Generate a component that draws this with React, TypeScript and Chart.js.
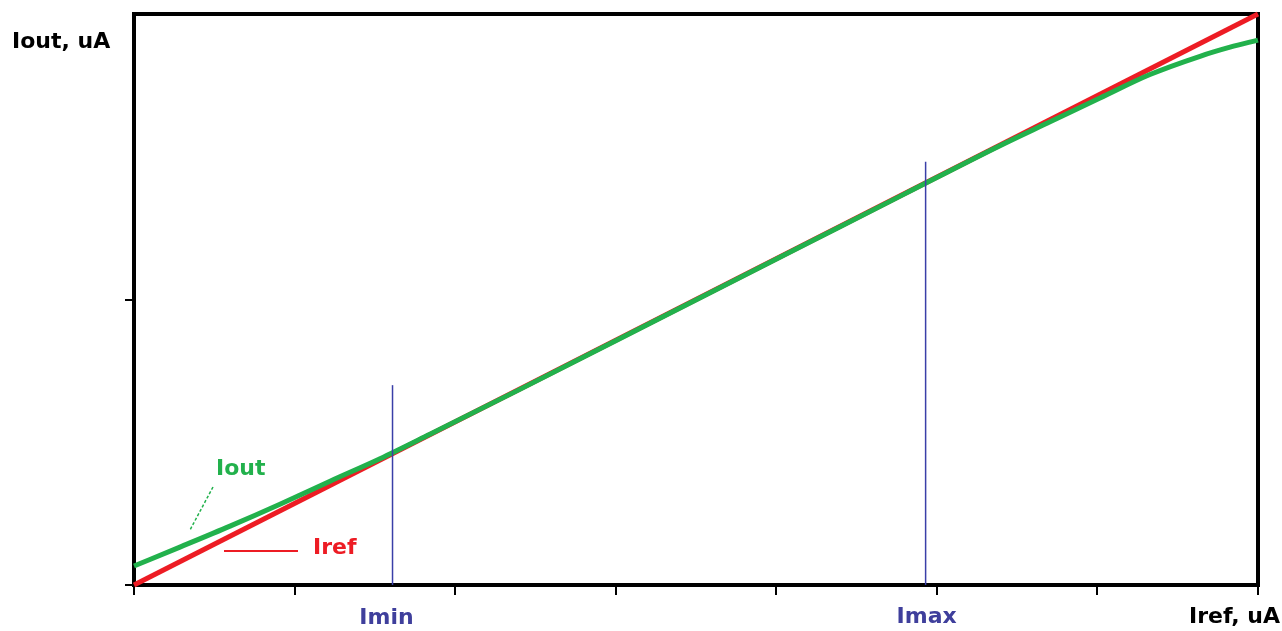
import React, { useEffect, useRef } from "react";
import { Chart, registerables } from "chart.js";

Chart.register(...registerables);

// Reference current (x axis, arbitrary uA units 0..70)
const refX = [0, 70];
const refY = [0, 70];

// Output current curve
const outX = [0, 2.86, 5.98, 9.09, 12.21, 15.32, 18.43, 24, 30, 36, 42, 48, 53.93, 57.05, 60.16, 63.27, 66.39, 68.26, 70];
const outY = [2.33, 4.65, 7.22, 9.91, 12.73, 15.48, 18.48, 23.95, 29.95, 35.95, 41.95, 47.95, 53.85, 56.78, 59.7, 62.58, 64.82, 65.93, 66.8];

// Imin / Imax markers
const iminX = 16.1;
const iminTop = 24.5;
const imaxX = 49.3;
const imaxTop = 51.9;

const xTicks = [0, 10, 20, 30, 40, 50, 60, 70];
const yTicks = [0, 35];

const yTitle = "Iout, uA";
const xTitle = "Iref, uA";
const iminLabel = "Imin";
const imaxLabel = "Imax";
const outLabel = "Iout";
const refLabel = "Iref";

const RED = "#ED1C24";
const GREEN = "#22B14C";
const BLUE = "#3A3FA8";
const FONT = "bold 22px 'DejaVu Sans', sans-serif";

const framePlugin = {
  id: "frame",
  beforeDatasetsDraw(chart: any) {
    const { ctx, chartArea } = chart;
    ctx.save();
    ctx.strokeStyle = "#000";
    ctx.lineWidth = 4;
    ctx.strokeRect(chartArea.left, chartArea.top, chartArea.right - chartArea.left, chartArea.bottom - chartArea.top);
    ctx.restore();
  },
  afterDraw(chart: any) {
    const { ctx, chartArea } = chart;
    const xs = chart.scales.x;
    ctx.save();
    ctx.font = FONT;
    ctx.textBaseline = "middle";
    // axis titles
    ctx.fillStyle = "#000";
    ctx.textAlign = "left";
    ctx.fillText(yTitle, 12, 42);
    ctx.textAlign = "right";
    ctx.fillText(xTitle, chartArea.right + 22, chartArea.bottom + 32);
    // Imin / Imax
    ctx.fillStyle = "#3F3F9C";
    ctx.textAlign = "center";
    ctx.fillText(iminLabel, xs.getPixelForValue(iminX) - 6, chartArea.bottom + 33);
    ctx.fillText(imaxLabel, xs.getPixelForValue(imaxX) + 1, chartArea.bottom + 32);
    // series labels
    ctx.textAlign = "left";
    ctx.fillStyle = GREEN;
    ctx.fillText(outLabel, chartArea.left + 82, chartArea.bottom - 116);
    ctx.fillStyle = RED;
    ctx.fillText(refLabel, chartArea.left + 179, chartArea.bottom - 37);
    // leader lines
    ctx.strokeStyle = GREEN;
    ctx.lineWidth = 1.5;
    ctx.setLineDash([3, 2]);
    ctx.beginPath();
    ctx.moveTo(chartArea.left + 79, chartArea.bottom - 98);
    ctx.lineTo(chartArea.left + 56, chartArea.bottom - 55);
    ctx.stroke();
    ctx.setLineDash([]);
    ctx.strokeStyle = RED;
    ctx.lineWidth = 2;
    ctx.beginPath();
    ctx.moveTo(chartArea.left + 90, chartArea.bottom - 34);
    ctx.lineTo(chartArea.left + 164, chartArea.bottom - 34);
    ctx.stroke();
    ctx.restore();
  },
};

export default function App() {
  const ref = useRef<HTMLCanvasElement>(null);
  useEffect(() => {
    document.body.style.margin = "0";
    const canvas = ref.current!;
    const chart = new Chart(canvas, {
      type: "line",
      data: {
        datasets: [
          {
            data: [{ x: iminX, y: 0 }, { x: iminX, y: iminTop }],
            borderColor: BLUE,
            borderWidth: 1.5,
            pointRadius: 0,
          },
          {
            data: [{ x: imaxX, y: 0 }, { x: imaxX, y: imaxTop }],
            borderColor: BLUE,
            borderWidth: 1.5,
            pointRadius: 0,
          },
          {
            data: outX.map((x, i) => ({ x, y: outY[i] })),
            borderColor: GREEN,
            borderWidth: 5,
            pointRadius: 0,
            cubicInterpolationMode: "monotone",
            clip: 4,
          },
          {
            data: refX.map((x, i) => ({ x, y: refY[i] })),
            borderColor: RED,
            borderWidth: 5,
            pointRadius: 0,
            clip: 4,
          },
        ],
      } as any,
      options: {
        responsive: false,
        animation: false,
        layout: { padding: { left: 125, right: 24, top: 14, bottom: 36 } },
        plugins: { legend: { display: false }, tooltip: { enabled: false } },
        scales: {
          x: {
            type: "linear",
            min: 0,
            max: 70,
            afterBuildTicks: (s: any) => {
              s.ticks = xTicks.map((v) => ({ value: v }));
            },
            ticks: { display: false },
            border: { display: false },
            grid: { drawOnChartArea: false, color: "#000", lineWidth: 2, tickLength: 10 },
          },
          y: {
            type: "linear",
            min: 0,
            max: 70,
            afterBuildTicks: (s: any) => {
              s.ticks = yTicks.map((v) => ({ value: v }));
            },
            ticks: { display: false },
            border: { display: false },
            grid: { drawOnChartArea: false, color: "#000", lineWidth: 2, tickLength: 9 },
          },
        },
      } as any,
      plugins: [framePlugin],
    });
    return () => chart.destroy();
  }, []);
  return <canvas ref={ref} width={1282} height={631} style={{ display: "block" }} />;
}
